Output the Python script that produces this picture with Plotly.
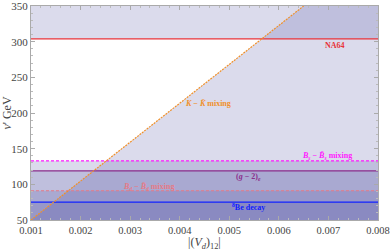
import plotly.graph_objects as go

# axis ranges and ticks
vd_range = [0.001, 0.008]
v_range = [50, 350]
vd_ticks = [0.001, 0.002, 0.003, 0.004, 0.005, 0.006, 0.007, 0.008]
vd_ticklabels = ["0.001", "0.002", "0.003", "0.004", "0.005", "0.006", "0.007", "0.008"]
v_ticks = [50, 100, 150, 200, 250, 300, 350]

# horizontal limits (v' in GeV)
limit_texts = ["NA64",
               "<i>B<sub>s</sub></i> − <i>B̄<sub>s</sub></i> mixing",
               "(<i>g</i> − 2)<sub><i>e</i></sub>",
               "<i>B<sub>d</sub></i> − <i>B̄<sub>d</sub></i> mixing",
               "<sup>8</sup>Be decay"]
limit_values = [304, 133, 119, 91, 75]
limit_sides = ["above", "below", "below", "below", "below"]
limit_colors = ["#e8333a", "#ff1aff", "#8b2e8b", "#e57a86", "#1020ff"]
limit_dash = ["solid", "3px,2px", "solid", "3px,2px", "solid"]
label_vd = [0.00713, 0.00697, 0.00539, 0.00337, 0.00539]
label_v = [295, 140, 110, 96, 68]

# K - Kbar mixing boundary
kk_vd = [0.001, 0.0065]
kk_v = [50, 350]
kk_label_vd = 0.00458
kk_label_v = 214

fill_col = "rgba(90,90,170,0.22)"
serif = "Liberation Serif"

fig = go.Figure()

# fills
for val, side in zip(limit_values, limit_sides):
    lo, hi = (val, v_range[1]) if side == "above" else (v_range[0], val)
    fig.add_trace(go.Scatter(
        x=[vd_range[0], vd_range[1], vd_range[1], vd_range[0]],
        y=[lo, lo, hi, hi], fill="toself", fillcolor=fill_col,
        mode="lines", line=dict(width=0), hoverinfo="skip", showlegend=False))

fig.add_trace(go.Scatter(
    x=kk_vd + [vd_range[1], vd_range[1]],
    y=kk_v + [v_range[1], v_range[0]],
    fill="toself", fillcolor=fill_col, mode="lines", line=dict(width=0),
    hoverinfo="skip", showlegend=False))

# lines
for val, col, dash in zip(limit_values, limit_colors, limit_dash):
    fig.add_trace(go.Scatter(
        x=vd_range, y=[val, val], mode="lines",
        line=dict(color=col, width=1.2, dash=dash), showlegend=False))

fig.add_trace(go.Scatter(
    x=kk_vd, y=kk_v, mode="lines",
    line=dict(color="#f0902a", width=1.2, dash="2px,1px"), showlegend=False))

# labels
for txt, col, xv, yv in zip(limit_texts, limit_colors, label_vd, label_v):
    fig.add_annotation(x=xv, y=yv, text="<b>" + txt + "</b>", showarrow=False,
                       font=dict(family=serif, size=8, color=col))
fig.add_annotation(x=kk_label_vd, y=kk_label_v,
                   text="<b><i>K</i> − <i>K̄</i> mixing</b>", showarrow=False,
                   font=dict(family=serif, size=8, color="#f0902a"))

# x axis title
fig.add_annotation(xref="paper", yref="paper", x=0.5, y=0, yshift=-23,
                   yanchor="middle", showarrow=False,
                   text="|(<i>V<sub>d</sub></i>)<sub>12</sub>|",
                   font=dict(family=serif, size=12, color="#444444"))

axis_common = dict(
    showgrid=False, zeroline=False, showline=True, linecolor="#aaaaaa",
    linewidth=1, mirror="allticks", ticks="inside", ticklen=4,
    tickcolor="#aaaaaa", automargin=False, ticklabeloverflow="allow",
)

fig.update_xaxes(range=vd_range, tickvals=vd_ticks, ticktext=vd_ticklabels,
                 tickfont=dict(family=serif, size=10.5, color="#444444"),
                 minor=dict(ticks="inside", ticklen=2, dtick=0.0002, tickcolor="#bbbbbb"),
                 **axis_common)
fig.update_yaxes(range=v_range, tickvals=v_ticks,
                 tickfont=dict(family=serif, size=11, color="#444444"),
                 title=dict(text="<i>v</i>' GeV",
                            font=dict(family=serif, size=12, color="#444444"),
                            standoff=2),
                 minor=dict(ticks="inside", ticklen=2, dtick=10, tickcolor="#bbbbbb"),
                 **axis_common)

fig.update_layout(width=390, height=250, margin=dict(l=31, r=12, t=6, b=30),
                  plot_bgcolor="white", paper_bgcolor="white")

fig.write_html("out.html", config={"displayModeBar": False},
               post_script="document.body.style.margin='0';")
